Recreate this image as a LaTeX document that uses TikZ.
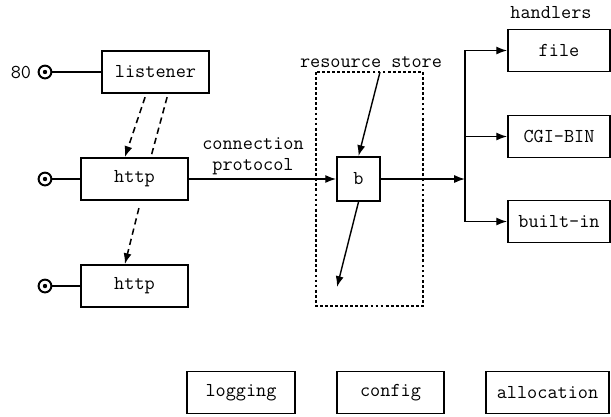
\documentclass[tikz,border=0pt]{standalone}
\usepackage{fontspec}
\usepackage{tikz}
\usetikzlibrary{arrows.meta}

\begin{document}
\begin{tikzpicture}[x=0.025cm, y=-0.025cm, >={Latex[length=2.7mm,width=2mm]},
    font=\ttfamily\fontsize{14}{15}\selectfont]
  \tikzstyle{box}=[rectangle,draw=black,line width=1.3pt,minimum height=1.05cm,inner sep=0pt]
  \tikzstyle{port}=[circle,draw=black,line width=1.4pt,inner sep=0pt,minimum size=0.32cm,
    path picture={\fill (path picture bounding box.center) circle (0.055cm);}]
  \tikzstyle{wire}=[line width=1pt]
  \tikzstyle{spawn}=[line width=1.1pt,dash pattern=on 4.5pt off 3pt]
  \useasboundingbox (0,0) rectangle (611,416);

  % listener and workers
  \node[box, minimum width=2.675cm] (listener) at (155.5,72) {listener};
  \node[box, minimum width=2.675cm] (http1) at (134.5,179) {http};
  \node[box, minimum width=2.675cm] (http2) at (134.5,286) {http};

  \node[port] (p80) at (45,72) {};
  \node[anchor=east] (l80) at (36,72) {80};
  \node[port] (p1) at (45,179) {};
  \node[port] (p2) at (45,286) {};

  % resource store
  \node[box, minimum width=1.075cm, minimum height=1.1cm] (b) at (358.5,179) {b};
  \draw[line width=1.3pt, dash pattern=on 2pt off 1.6pt] (316,72) rectangle (423,306);
  \node (store) at (371,62) {resource store};
  \coordinate (sin) at (380,72);
  \coordinate (sout) at (337,287);
  \node[align=center, inner sep=0pt] (proto) at (253,156) {connection\\protocol};

  % handlers
  \node (handlers) at (551,13) {handlers};
  \node[box, minimum width=2.55cm] (file) at (559,50.5) {file};
  \node[box, minimum width=2.55cm] (cgi) at (559,136.5) {CGI-BIN};
  \node[box, minimum width=2.55cm] (builtin) at (559,221.5) {built-in};
  \coordinate (jn) at (465,179);

  % services
  \node[box, minimum width=2.7cm] (logging) at (241,392.5) {logging};
  \node[box, minimum width=2.675cm] (config) at (390.5,392.5) {config};
  \node[box, minimum width=3.08cm] (alloc) at (547.5,392.5) {allocation};

  % edges
  \draw[wire] (p80) -- (listener);
  \draw[wire] (p1) -- (http1);
  \draw[wire] (p2) -- (http2);

  \draw[spawn,->] ([xshift=-0.26cm, yshift=-0.08cm]listener.south) -- ([xshift=-0.24cm]http1.north);
  \draw[spawn] ([xshift=0.29cm, yshift=-0.08cm]listener.south) -- ([xshift=0.41cm]http1.north);
  \draw[spawn,->] ([xshift=0.11cm, yshift=-0.18cm]http1.south) -- ([xshift=-0.24cm]http2.north);

  \draw[wire,->] (http1) -- (b);
  \draw[wire,->] (sin) -- (b.north);
  \draw[wire,->] (b.south) -- (sout);
  \draw[wire,->] (b) -- (jn);
  \draw[wire,->] (jn) |- (file);
  \draw[wire,->] (jn) |- (cgi);
  \draw[wire,->] (jn) |- (builtin);

\end{tikzpicture}
\end{document}
